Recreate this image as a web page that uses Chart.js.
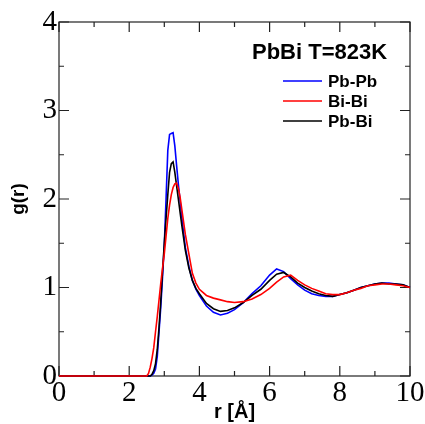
<!DOCTYPE html>
<html>
<head>
<meta charset="utf-8">
<script src="https://cdn.jsdelivr.net/npm/chart.js@4.4.1/dist/chart.umd.min.js"></script>
<style>
html,body{margin:0;padding:0;background:#fff;}
#c{display:block;}
</style>
</head>
<body>
<canvas id="c" width="425" height="424"></canvas>
<script>
const r = [0, 2.5, 2.55, 2.6, 2.65, 2.7, 2.75, 2.8, 2.85, 2.9, 2.95, 3.0, 3.05, 3.1, 3.15, 3.2, 3.25, 3.3, 3.35, 3.4, 3.45, 3.5, 3.6, 3.7, 3.8, 3.9, 4.0, 4.2, 4.4, 4.6, 4.8, 5.0, 5.25, 5.5, 5.75, 6.0, 6.2, 6.4, 6.6, 6.8, 7.0, 7.2, 7.4, 7.6, 7.8, 8.0, 8.2, 8.4, 8.6, 8.8, 9.0, 9.2, 9.4, 9.6, 9.8, 10.0];
const pbpb = [0, 0, 0, 0, 0.01, 0.03, 0.08, 0.22, 0.5, 0.78, 1.12, 1.48, 2.0, 2.55, 2.73, 2.74, 2.75, 2.6, 2.38, 2.17, 1.98, 1.79, 1.45, 1.24, 1.08, 0.98, 0.91, 0.79, 0.72, 0.69, 0.71, 0.75, 0.83, 0.93, 1.02, 1.14, 1.21, 1.18, 1.10, 1.03, 0.97, 0.93, 0.91, 0.90, 0.90, 0.92, 0.94, 0.97, 1.00, 1.02, 1.04, 1.05, 1.05, 1.04, 1.03, 1.00];
const bibi = [0, 0, 0.03, 0.1, 0.2, 0.32, 0.5, 0.67, 0.86, 1.05, 1.22, 1.38, 1.58, 1.78, 1.93, 2.05, 2.13, 2.17, 2.18, 2.12, 2.02, 1.88, 1.6, 1.38, 1.16, 1.05, 0.98, 0.91, 0.88, 0.86, 0.84, 0.83, 0.84, 0.87, 0.92, 0.99, 1.06, 1.12, 1.14, 1.08, 1.03, 0.99, 0.96, 0.93, 0.92, 0.92, 0.94, 0.97, 0.99, 1.02, 1.03, 1.04, 1.04, 1.03, 1.02, 1.00];
const pbbi = [0, 0, 0, 0, 0.02, 0.06, 0.14, 0.3, 0.55, 0.85, 1.18, 1.5, 1.78, 2.05, 2.3, 2.4, 2.42, 2.3, 2.15, 2.0, 1.85, 1.7, 1.42, 1.22, 1.08, 0.99, 0.93, 0.82, 0.76, 0.73, 0.74, 0.77, 0.83, 0.91, 0.98, 1.08, 1.15, 1.17, 1.12, 1.05, 1.00, 0.96, 0.93, 0.91, 0.90, 0.92, 0.94, 0.97, 1.00, 1.02, 1.04, 1.05, 1.04, 1.04, 1.03, 1.00];
const seriesNames = ["Pb-Pb", "Bi-Bi", "Pb-Bi"];
const seriesColors = ["#0000ff", "#ff0000", "#000000"];
const xTicks = [0, 2, 4, 6, 8, 10];
const yTicks = [0, 1, 2, 3, 4];
const titleText = "PbBi T=823K";

const toPts = arr => r.map((x, i) => ({x: x, y: arr[i]}));
const serif = "'Liberation Serif','Times New Roman',serif";
const sans = "'Liberation Sans',Arial,sans-serif";

const frame = {
  id: 'frame',
  beforeDatasetsDraw(chart) {
    const {ctx, chartArea: a, scales: {x, y}} = chart;
    ctx.save();
    ctx.strokeStyle = '#222';
    ctx.lineWidth = 1.2;
    ctx.strokeRect(a.left, a.top, a.right - a.left, a.bottom - a.top);
    ctx.beginPath();
    for (let v = 0; v <= 10; v += 1) {
      const px = x.getPixelForValue(v);
      const len = (v % 2 === 0) ? 10 : 5;
      ctx.moveTo(px, a.bottom); ctx.lineTo(px, a.bottom - len);
      ctx.moveTo(px, a.top); ctx.lineTo(px, a.top + len);
    }
    for (let v = 0; v <= 4; v += 0.5) {
      const py = y.getPixelForValue(v);
      const len = (v % 1 === 0) ? 10 : 5;
      ctx.moveTo(a.left, py); ctx.lineTo(a.left + len, py);
      ctx.moveTo(a.right, py); ctx.lineTo(a.right - len, py);
    }
    ctx.stroke();
    ctx.restore();
  },
  afterDraw(chart) {
    const {ctx} = chart;
    ctx.save();
    ctx.fillStyle = '#000';
    ctx.textBaseline = 'middle';
    ctx.textAlign = 'left';
    ctx.font = "bold 22px " + sans;
    ctx.fillText(titleText, 252, 53);
    ctx.font = "bold 17px " + sans;
    const ys = [81, 101, 121];
    [0, 1, 2].forEach(i => {
      ctx.strokeStyle = seriesColors[i];
      ctx.lineWidth = 1.6;
      ctx.beginPath();
      ctx.moveTo(283, ys[i]); ctx.lineTo(322, ys[i]);
      ctx.stroke();
      ctx.fillText(seriesNames[i], 328, ys[i] + 1);
    });
    ctx.restore();
  }
};

new Chart(document.getElementById('c'), {
  type: 'line',
  data: {
    datasets: [
      {label: seriesNames[0], data: toPts(pbpb), borderColor: seriesColors[0], order: 3, clip: 4},
      {label: seriesNames[2], data: toPts(pbbi), borderColor: seriesColors[2], order: 2, clip: 4},
      {label: seriesNames[1], data: toPts(bibi), borderColor: seriesColors[1], order: 1, clip: 4}
    ]
  },
  options: {
    responsive: false,
    animation: false,
    devicePixelRatio: 1,
    layout: {padding: {top: 22, right: 15, left: 0, bottom: 0}},
    elements: {
      point: {radius: 0},
      line: {borderWidth: 1.6, tension: 0, fill: false}
    },
    plugins: {legend: {display: false}, tooltip: {enabled: false}},
    scales: {
      x: {
        type: 'linear', min: 0, max: 10,
        afterBuildTicks: s => { s.ticks = xTicks.map(v => ({value: v})); },
        afterFit: s => { s.height = 48; },
        grid: {display: false, drawTicks: false},
        border: {display: false},
        ticks: {color: '#000', font: {family: serif, size: 29}, padding: 0, maxRotation: 0},
        title: {display: true, text: 'r [Å]', color: '#000', font: {family: sans, size: 20, weight: 'bold'}, padding: {top: 0, bottom: 0}}
      },
      y: {
        type: 'linear', min: 0, max: 4,
        afterBuildTicks: s => { s.ticks = yTicks.map(v => ({value: v})); },
        afterFit: s => { s.width = 59; },
        grid: {display: false, drawTicks: false},
        border: {display: false},
        ticks: {color: '#000', font: {family: serif, size: 29}, padding: 2},
        title: {display: true, text: 'g(r)', color: '#000', font: {family: sans, size: 19, weight: 'bold'}, padding: {top: 7, bottom: 0}}
      }
    }
  },
  plugins: [frame]
});
</script>
</body>
</html>
